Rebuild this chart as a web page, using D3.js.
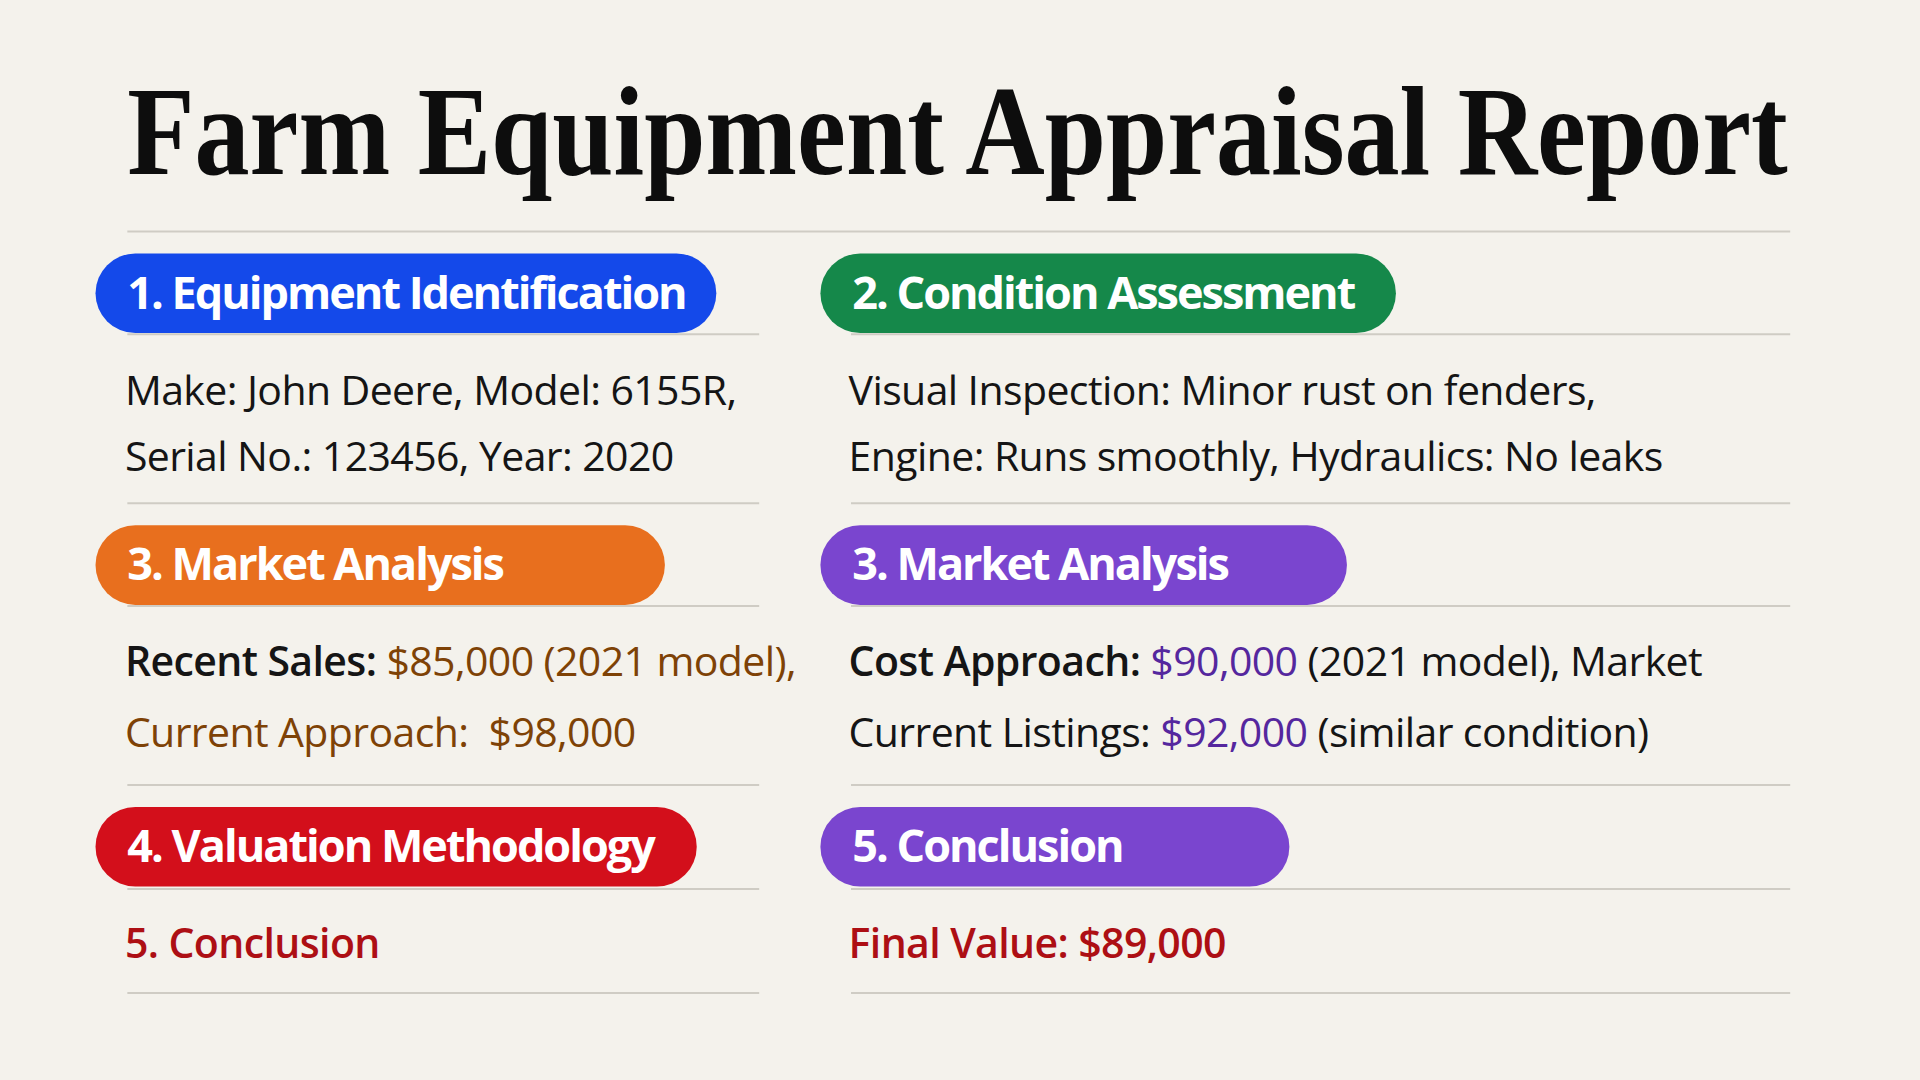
<!DOCTYPE html>
<html><head><meta charset="utf-8">
<script src="https://cdn.jsdelivr.net/npm/d3@7"></script>
<style>
body{margin:0;background:#f4f2ec;}
svg{display:block;}
</style></head>
<body><svg id="chart" width="1920" height="1080"></svg>
<script>
// report content
var title = "Farm Equipment Appraisal Report";
var headings = ["1. Equipment Identification", "2. Condition Assessment", "3. Market Analysis",
                "3. Market Analysis", "4. Valuation Methodology", "5. Conclusion"];
var headColors = ["#1449ea", "#15884a", "#e86f1e", "#7a45cf", "#d30f1b", "#7a45cf"];
var headWidths = [507, 470, 465, 430, 491, 383];
// each body line is a list of [text, style] runs
var bodies = [
  [[["Make: John Deere, Model: 6155R,", "n"]], [["Serial No.: 123456, Year: 2020", "n"]]],
  [[["Visual Inspection: Minor rust on fenders,", "n"]], [["Engine: Runs smoothly, Hydraulics: No leaks", "n"]]],
  [[["Recent Sales: ", "b"], ["$85,000 (2021 model),", "brown"]], [["Current Approach:  $98,000", "brown"]]],
  [[["Cost Approach: ", "b"], ["$90,000", "purple"], [" (2021 model), Market", "n"]],
   [["Current Listings: ", "n"], ["$92,000", "purple"], [" (similar condition)", "n"]]],
  [[["5. Conclusion", "red"]]],
  [[["Final Value: ", "red"], ["$89,000", "red"]]]
];
var runStyles = {
  n: {fill: "#151515", weight: 400},
  b: {fill: "#151515", weight: 600},
  brown: {fill: "#7e4206", weight: 400},
  purple: {fill: "#55279e", weight: 400},
  red: {fill: "#ad0f14", weight: 600}
};

var x = d3.scaleLinear().domain([0, 1568]).range([0, 1920]);
var y = d3.scaleLinear().domain([0, 882]).range([0, 1080]);
var svg = d3.select("#chart");

svg.append("text").attr("x", x(104)).attr("y", y(142))
  .attr("textLength", x(1460) - x(104)).attr("lengthAdjust", "spacingAndGlyphs")
  .style("font-family", "'Liberation Serif', serif").style("font-weight", 700)
  .style("font-size", "128px").style("fill", "#0d0d0d").text(title);

function rule(x1, x2, yy) {
  svg.append("line").attr("x1", x(x1)).attr("x2", x(x2)).attr("y1", y(yy)).attr("y2", y(yy))
    .attr("stroke", "#cfccc4").attr("stroke-width", 2);
}
rule(104, 1462, 189);

var rowTop = [207, 429, 659];
var lineY = [[320, 374], [541, 599], [771]];
var rowRules = [[273, 411], [495, 641], [726, 811]];

headings.forEach(function (h, i) {
  var col = i % 2, row = Math.floor(i / 2);
  var px = col ? 670 : 78;
  var g = svg.append("g");
  g.append("rect").attr("x", x(px)).attr("y", y(rowTop[row]))
    .attr("width", x(headWidths[i])).attr("height", y(65)).attr("rx", y(32.5))
    .attr("fill", headColors[i]);
  g.append("text").attr("x", x(px + 26)).attr("y", y(rowTop[row] + 45))
    .style("font-family", "'Open Sans', sans-serif").style("font-weight", 700)
    .style("font-size", "45px").style("letter-spacing", "-2px").style("fill", "#fff").text(h);
  rowRules[row].forEach(function (r) { col ? rule(695, 1462, r) : rule(104, 620, r); });
  bodies[i].forEach(function (line, j) {
    var t = svg.append("text").attr("x", x(col ? 693 : 102)).attr("y", y(lineY[row][j] + 11))
      .style("font-family", "'Open Sans', sans-serif").style("font-size", "41px")
      .style("letter-spacing", "-0.6px").attr("xml:space", "preserve");
    t.selectAll("tspan").data(line).enter().append("tspan")
      .text(function (d) { return d[0]; })
      .style("fill", function (d) { return runStyles[d[1]].fill; })
      .style("font-weight", function (d) { return runStyles[d[1]].weight; });
  });
});
</script></body></html>
